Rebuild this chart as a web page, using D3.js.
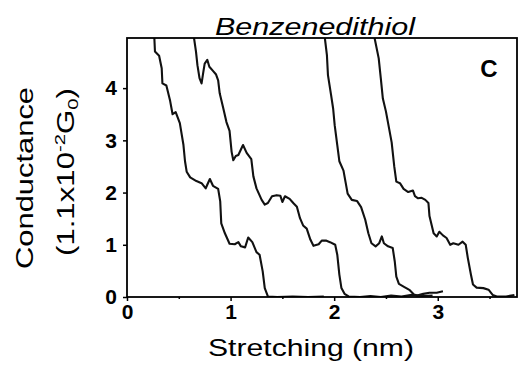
<html>
  <head>
    <script src="https://d3js.org/d3.v7.min.js"></script>
    <style>
      body { margin: 0; background: white; }
      text { font-family: Arial, "Liberation Sans", sans-serif; fill: black; }
    </style>
  </head>
  <body>
    <div id="chart"></div>
    <script>
      // traces: [stretching (nm), conductance]
      const trace1 = [[0.264,4.96],[0.27,4.70],[0.31,4.62],[0.335,4.38],[0.342,4.09],[0.38,4.05],[0.415,3.77],[0.44,3.50],[0.47,3.54],[0.51,3.33],[0.545,2.91],[0.56,2.60],[0.576,2.40],[0.61,2.29],[0.67,2.22],[0.72,2.18],[0.76,2.08],[0.775,2.15],[0.80,2.26],[0.83,2.13],[0.88,2.07],[0.90,1.83],[0.91,1.41],[0.945,1.22],[0.99,1.02],[1.04,1.01],[1.075,1.05],[1.10,0.97],[1.14,0.95],[1.17,1.14],[1.21,1.05],[1.25,0.86],[1.28,0.81],[1.31,0.49],[1.33,0.17],[1.36,0.01],[1.45,0.0],[1.6,0.01],[1.75,0.0],[1.9,0.01]];
      const trace2 = [[0.647,4.96],[0.666,4.70],[0.68,4.44],[0.70,4.19],[0.72,4.09],[0.737,4.31],[0.75,4.47],[0.775,4.54],[0.795,4.41],[0.83,4.33],[0.86,4.26],[0.88,4.15],[0.895,3.90],[0.93,3.61],[0.96,3.35],[0.99,3.18],[1.01,2.78],[1.026,2.62],[1.05,2.70],[1.075,2.72],[1.12,2.91],[1.155,2.76],[1.20,2.64],[1.22,2.31],[1.25,2.08],[1.30,1.86],[1.33,1.77],[1.36,1.80],[1.40,1.93],[1.445,1.95],[1.48,1.94],[1.50,1.82],[1.525,1.93],[1.57,1.88],[1.605,1.80],[1.64,1.73],[1.67,1.51],[1.70,1.37],[1.735,1.31],[1.77,1.10],[1.80,0.98],[1.85,1.01],[1.88,1.08],[1.92,1.08],[1.96,1.05],[2.01,1.00],[2.03,0.81],[2.05,0.43],[2.07,0.17],[2.10,0.06],[2.14,0.01],[2.25,0.0],[2.35,0.02],[2.45,0.0],[2.55,0.03],[2.65,0.01],[2.75,0.04],[2.85,0.02],[2.95,0.03]];
      const trace3 = [[1.91,4.96],[1.93,4.63],[1.94,4.25],[1.97,3.87],[1.99,3.61],[2.005,3.29],[2.03,2.91],[2.05,2.60],[2.09,2.42],[2.11,2.20],[2.13,1.98],[2.17,1.86],[2.22,1.84],[2.26,1.72],[2.30,1.48],[2.33,1.22],[2.36,1.03],[2.40,0.97],[2.435,1.03],[2.46,1.16],[2.48,1.03],[2.52,0.97],[2.565,0.94],[2.585,0.68],[2.60,0.39],[2.625,0.25],[2.67,0.20],[2.73,0.13],[2.77,0.05],[2.80,0.03],[2.86,0.06],[2.92,0.08],[2.99,0.08],[3.05,0.11]];
      const trace4 = [[2.39,4.96],[2.43,4.57],[2.45,4.19],[2.47,3.80],[2.50,3.55],[2.53,3.23],[2.555,2.96],[2.58,2.50],[2.60,2.21],[2.635,2.18],[2.67,2.07],[2.715,2.01],[2.76,2.04],[2.78,1.93],[2.81,1.89],[2.845,1.90],[2.88,1.86],[2.91,1.80],[2.92,1.55],[2.96,1.22],[2.99,1.16],[3.015,1.25],[3.05,1.18],[3.085,1.13],[3.12,1.00],[3.15,1.03],[3.20,1.00],[3.24,1.06],[3.27,1.00],[3.29,0.75],[3.32,0.43],[3.34,0.24],[3.375,0.18],[3.44,0.17],[3.49,0.14],[3.53,0.04],[3.57,0.01],[3.66,0.01],[3.74,0.04]];

      const xTicks = [0, 1, 2, 3];
      const xMinor = [0.5, 1.5, 2.5, 3.5];
      const yTicks = [0, 1, 2, 3, 4];

      const width = 520, height = 366;
      const margin = {top: 38, right: 3, bottom: 69, left: 127};

      const svg = d3.create('svg')
        .attr('width', width)
        .attr('height', height);

      const x = d3.scaleLinear()
        .domain([0, 3.765])
        .range([margin.left, width - margin.right]);

      const y = d3.scaleLinear()
        .domain([0, 4.96])
        .range([height - margin.bottom, margin.top]);

      svg.append('clipPath').attr('id', 'plot')
        .append('rect')
          .attr('x', margin.left).attr('y', margin.top)
          .attr('width', x.range()[1] - margin.left)
          .attr('height', y.range()[0] - margin.top);

      const line = d3.line()
        .x(d => x(d[0]))
        .y(d => y(d[1]));

      svg.append('g')
        .attr('clip-path', 'url(#plot)')
        .selectAll('path')
        .data([trace1, trace2, trace3, trace4])
        .join('path')
          .attr('d', line)
          .attr('fill', 'none')
          .attr('stroke', '#111')
          .attr('stroke-width', 2.1)
          .attr('stroke-linejoin', 'round');

      // x axis
      const xAxis = svg.append('g')
        .attr('transform', `translate(0, ${y(0)})`)
        .call(d3.axisBottom(x).tickValues(xTicks).tickFormat(d3.format('d'))
          .tickSize(4).tickSizeOuter(0).tickPadding(3));
      xAxis.select('.domain').remove();
      xAxis.selectAll('line').attr('stroke-width', 1.5);
      xAxis.selectAll('text')
        .attr('font-size', 21).attr('font-weight', 'bold')
        .attr('font-family', 'Arial, "Liberation Sans", sans-serif').attr('fill', 'black');

      svg.append('g')
        .attr('transform', `translate(0, ${y(0)})`)
        .call(d3.axisBottom(x).tickValues(xMinor).tickSize(2).tickFormat(''))
        .call(g => g.select('.domain').remove())
        .selectAll('line').attr('stroke-width', 1.5);

      // y axis
      const yAxis = svg.append('g')
        .attr('transform', `translate(${margin.left}, 0)`)
        .call(d3.axisLeft(y).tickValues(yTicks).tickFormat(d3.format('d'))
          .tickSize(4).tickSizeOuter(0).tickPadding(6));
      yAxis.select('.domain').remove();
      yAxis.selectAll('line').attr('stroke-width', 1.5);
      yAxis.selectAll('text')
        .attr('font-size', 21).attr('font-weight', 'bold')
        .attr('font-family', 'Arial, "Liberation Sans", sans-serif').attr('fill', 'black');

      // frame
      svg.append('rect')
        .attr('x', margin.left).attr('y', margin.top)
        .attr('width', x.range()[1] - margin.left)
        .attr('height', y.range()[0] - margin.top)
        .attr('fill', 'none')
        .attr('stroke', 'black')
        .attr('stroke-width', 1.8);

      // title and panel letter
      svg.append('text')
        .attr('x', 315).attr('y', 35)
        .attr('text-anchor', 'middle')
        .attr('font-size', 24)
        .attr('font-style', 'italic')
        .attr('textLength', 200)
        .attr('lengthAdjust', 'spacingAndGlyphs')
        .text('Benzenedithiol');

      svg.append('text')
        .attr('x', 489).attr('y', 77)
        .attr('text-anchor', 'middle')
        .attr('font-size', 24)
        .attr('font-weight', 'bold')
        .text('C');

      // axis titles
      svg.append('text')
        .attr('x', 311).attr('y', 356)
        .attr('text-anchor', 'middle')
        .attr('font-size', 24)
        .attr('textLength', 206)
        .attr('lengthAdjust', 'spacingAndGlyphs')
        .text('Stretching (nm)');

      svg.append('text')
        .attr('transform', 'translate(33, 178) rotate(-90)')
        .attr('text-anchor', 'middle')
        .attr('font-size', 24)
        .attr('textLength', 182)
        .attr('lengthAdjust', 'spacingAndGlyphs')
        .text('Conductance');

      const unit = svg.append('text')
        .attr('transform', 'translate(74, 172) rotate(-90)')
        .attr('text-anchor', 'middle')
        .attr('font-size', 23)
        .attr('textLength', 168)
        .attr('lengthAdjust', 'spacingAndGlyphs');
      unit.append('tspan').text('(1.1x10');
      unit.append('tspan').attr('font-size', 15).attr('dy', -9).text('-2');
      unit.append('tspan').attr('dy', 9).text('G');
      unit.append('tspan').attr('font-size', 15).attr('dy', 4).text('0');
      unit.append('tspan').attr('dy', -4).text(')');

      document.getElementById('chart').appendChild(svg.node());
    </script>
  </body>
</html>
